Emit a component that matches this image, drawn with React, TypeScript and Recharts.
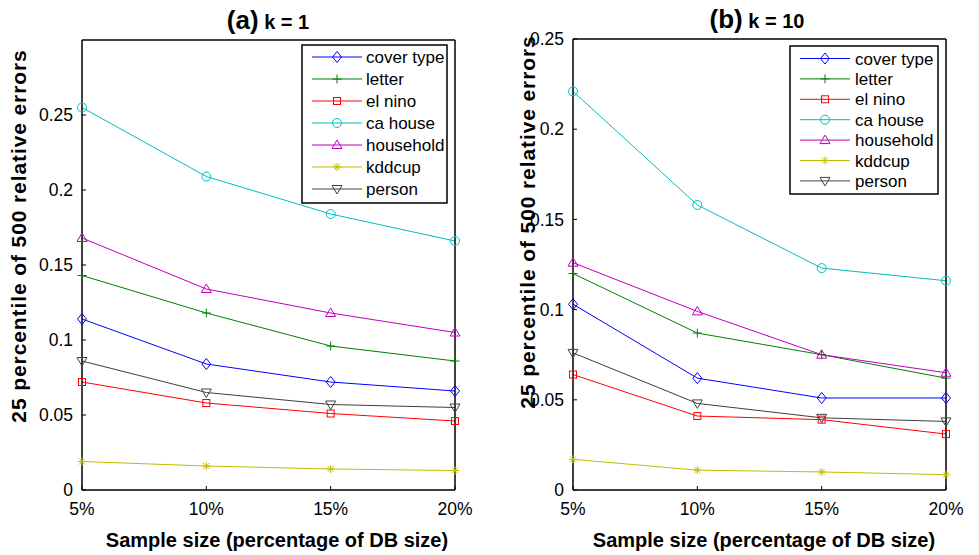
import React from 'react';
import { LineChart, Line, XAxis, YAxis } from 'recharts';

// ---------- data ----------
const sampleSizes = [5, 10, 15, 20];
const xTicks = [5, 10, 15, 20];
const yTicksA = [0, 0.05, 0.1, 0.15, 0.2, 0.25];
const yTicksB = [0, 0.05, 0.1, 0.15, 0.2, 0.25];

const seriesNames = ['cover type', 'letter', 'el nino', 'ca house', 'household', 'kddcup', 'person'];

// (a) k = 1
const coverTypeA = [0.114, 0.084, 0.072, 0.066];
const letterA = [0.143, 0.118, 0.096, 0.086];
const elNinoA = [0.072, 0.058, 0.051, 0.046];
const caHouseA = [0.255, 0.209, 0.184, 0.166];
const householdA = [0.168, 0.134, 0.118, 0.105];
const kddcupA = [0.019, 0.016, 0.014, 0.013];
const personA = [0.086, 0.065, 0.057, 0.055];

// (b) k = 10
const coverTypeB = [0.103, 0.062, 0.051, 0.051];
const letterB = [0.12, 0.087, 0.075, 0.062];
const elNinoB = [0.064, 0.041, 0.039, 0.031];
const caHouseB = [0.221, 0.158, 0.123, 0.116];
const householdB = [0.126, 0.099, 0.075, 0.065];
const kddcupB = [0.017, 0.011, 0.01, 0.0085];
const personB = [0.076, 0.048, 0.04, 0.038];

// ---------- styling ----------
const FONT = '"Liberation Sans", Arial, Helvetica, sans-serif';
const colors = ['#0000ff', '#008000', '#ff0000', '#00bfbf', '#bf00bf', '#bfbf00', '#404040'];
const markers = ['diamond', 'plus', 'square', 'circle', 'triUp', 'star', 'triDown'];
const keys = ['cover', 'letter', 'elnino', 'cahouse', 'household', 'kddcup', 'person'];

function buildRows(series: number[][]) {
  return sampleSizes.map((x, i) => {
    const row: Record<string, number> = { x };
    series.forEach((s, j) => {
      row[keys[j]] = s[i];
    });
    return row;
  });
}

const dataA = buildRows([coverTypeA, letterA, elNinoA, caHouseA, householdA, kddcupA, personA]);
const dataB = buildRows([coverTypeB, letterB, elNinoB, caHouseB, householdB, kddcupB, personB]);

function Marker({ kind, cx, cy, color }: { kind: string; cx: number; cy: number; color: string }) {
  const p = { fill: 'none', stroke: color, strokeWidth: 1 };
  switch (kind) {
    case 'diamond':
      return <polygon {...p} points={`${cx},${cy - 5.5} ${cx + 4.5},${cy} ${cx},${cy + 5.5} ${cx - 4.5},${cy}`} />;
    case 'plus':
      return (
        <g {...p}>
          <line x1={cx - 4.5} y1={cy} x2={cx + 4.5} y2={cy} />
          <line x1={cx} y1={cy - 4.5} x2={cx} y2={cy + 4.5} />
        </g>
      );
    case 'square':
      return <rect {...p} x={cx - 3.5} y={cy - 3.5} width={7} height={7} />;
    case 'circle':
      return <circle {...p} cx={cx} cy={cy} r={4.5} />;
    case 'triUp':
      return <polygon {...p} points={`${cx},${cy - 5} ${cx + 5},${cy + 3.5} ${cx - 5},${cy + 3.5}`} />;
    case 'star':
      return (
        <g {...p}>
          <line x1={cx - 4} y1={cy} x2={cx + 4} y2={cy} />
          <line x1={cx} y1={cy - 4} x2={cx} y2={cy + 4} />
          <line x1={cx - 3} y1={cy - 3} x2={cx + 3} y2={cy + 3} />
          <line x1={cx - 3} y1={cy + 3} x2={cx + 3} y2={cy - 3} />
        </g>
      );
    case 'triDown':
    default:
      return <polygon {...p} points={`${cx - 5},${cy - 3.5} ${cx + 5},${cy - 3.5} ${cx},${cy + 5}`} />;
  }
}

const tickStyle = { fill: '#000', fontSize: 17.5, fontFamily: FONT };

function Panel({
  data,
  yMax,
  yTicks,
  width,
  yAxisWidth,
  marginRight,
  marginTop,
}: {
  data: Record<string, number>[];
  yMax: number;
  yTicks: number[];
  width: number;
  yAxisWidth: number;
  marginRight: number;
  marginTop: number;
}) {
  const axisLine = { stroke: '#000', strokeWidth: 1.5 };
  return (
    <LineChart
      width={width}
      height={555}
      data={data}
      margin={{ top: marginTop, right: marginRight, left: 0, bottom: 35 }}
      style={{ fontFamily: FONT }}
    >
      <XAxis
        dataKey="x"
        type="number"
        domain={[5, 20]}
        ticks={xTicks}
        tickFormatter={(v: number) => `${v}%`}
        height={30}
        stroke="#000"
        axisLine={axisLine}
        tickSize={-4}
        tickMargin={17}
        tick={tickStyle}
        interval={0}
      />
      <XAxis
        xAxisId="top"
        dataKey="x"
        type="number"
        orientation="top"
        mirror
        domain={[5, 20]}
        ticks={xTicks}
        tick={false}
        tickSize={4}
        stroke="#000"
        axisLine={axisLine}
      />
      <YAxis
        type="number"
        domain={[0, yMax]}
        ticks={yTicks}
        width={yAxisWidth}
        stroke="#000"
        axisLine={axisLine}
        tickSize={-4}
        tickMargin={13}
        tick={tickStyle}
        interval={0}
      />
      <YAxis
        yAxisId="right"
        type="number"
        orientation="right"
        mirror
        domain={[0, yMax]}
        ticks={yTicks}
        tick={false}
        tickSize={4}
        stroke="#000"
        axisLine={axisLine}
      />
      {keys.map((k, j) => (
        <Line
          key={k}
          dataKey={k}
          name={seriesNames[j]}
          stroke={colors[j]}
          strokeWidth={1}
          isAnimationActive={false}
          dot={(props: any) => (
            <g key={`${k}-${props.index}`}>
              <Marker kind={markers[j]} cx={props.cx} cy={props.cy} color={colors[j]} />
            </g>
          )}
          activeDot={false}
        />
      ))}
    </LineChart>
  );
}

function LegendBox({
  x,
  y,
  w,
  h,
  firstRow,
  rowGap,
  lineX1,
  lineX2,
  textX,
}: {
  x: number;
  y: number;
  w: number;
  h: number;
  firstRow: number;
  rowGap: number;
  lineX1: number;
  lineX2: number;
  textX: number;
}) {
  return (
    <g>
      <rect x={x} y={y} width={w} height={h} fill="#fff" stroke="#000" strokeWidth={1.5} />
      {seriesNames.map((n, j) => {
        const cy = firstRow + rowGap * j;
        const mx = (lineX1 + lineX2) / 2;
        return (
          <g key={n}>
            <line x1={lineX1} y1={cy} x2={lineX2} y2={cy} stroke={colors[j]} strokeWidth={1} />
            <Marker kind={markers[j]} cx={mx} cy={cy} color={colors[j]} />
            <text x={textX} y={cy + 6} fontSize={17} fontFamily={FONT} fill="#000">
              {n}
            </text>
          </g>
        );
      })}
    </g>
  );
}

export default function App() {
  return (
    <div style={{ position: 'absolute', left: 0, top: 0, width: 979, height: 555, background: '#fff' }}>
      <div style={{ position: 'absolute', left: 0, top: 0 }}>
        <Panel data={dataA} yMax={0.3} yTicks={yTicksA} width={490} yAxisWidth={82} marginRight={35} marginTop={40} />
      </div>
      <div style={{ position: 'absolute', left: 490, top: 0 }}>
        <Panel data={dataB} yMax={0.25} yTicks={yTicksB} width={489} yAxisWidth={83} marginRight={33} marginTop={39} />
      </div>
      <svg
        width={979}
        height={555}
        style={{ position: 'absolute', left: 0, top: 0, pointerEvents: 'none' }}
      >
        {/* titles */}
        <text x={268} y={29} textAnchor="middle" fontFamily={FONT} fontWeight="bold" fill="#000">
          <tspan fontSize={26}>(a)</tspan>
          <tspan fontSize={20}> k = 1</tspan>
        </text>
        <text x={757} y={28} textAnchor="middle" fontFamily={FONT} fontWeight="bold" fill="#000">
          <tspan fontSize={26}>(b)</tspan>
          <tspan fontSize={20}> k = 10</tspan>
        </text>
        {/* x labels */}
        <text x={277} y={547} textAnchor="middle" fontFamily={FONT} fontWeight="bold" fontSize={20} fill="#000">
          Sample size (percentage of DB size)
        </text>
        <text x={764} y={547} textAnchor="middle" fontFamily={FONT} fontWeight="bold" fontSize={20} fill="#000">
          Sample size (percentage of DB size)
        </text>
        {/* y labels */}
        <text
          transform="translate(26,236) rotate(-90)"
          textAnchor="middle"
          fontFamily={FONT}
          fontWeight="bold"
          fontSize={21}
          letterSpacing={0.9}
          fill="#000"
        >
          25 percentile of 500 relative errors
        </text>
        <text
          transform="translate(535,222) rotate(-90)"
          textAnchor="middle"
          fontFamily={FONT}
          fontWeight="bold"
          fontSize={21}
          letterSpacing={0.9}
          fill="#000"
        >
          25 percentile of 500 relative errors
        </text>
        {/* legends */}
        <LegendBox x={302} y={45} w={145} h={158} firstRow={57} rowGap={22} lineX1={312} lineX2={362} textX={366} />
        <LegendBox x={790} y={46} w={148} h={148} firstRow={58.5} rowGap={20.4} lineX1={800} lineX2={850} textX={855} />
      </svg>
    </div>
  );
}
